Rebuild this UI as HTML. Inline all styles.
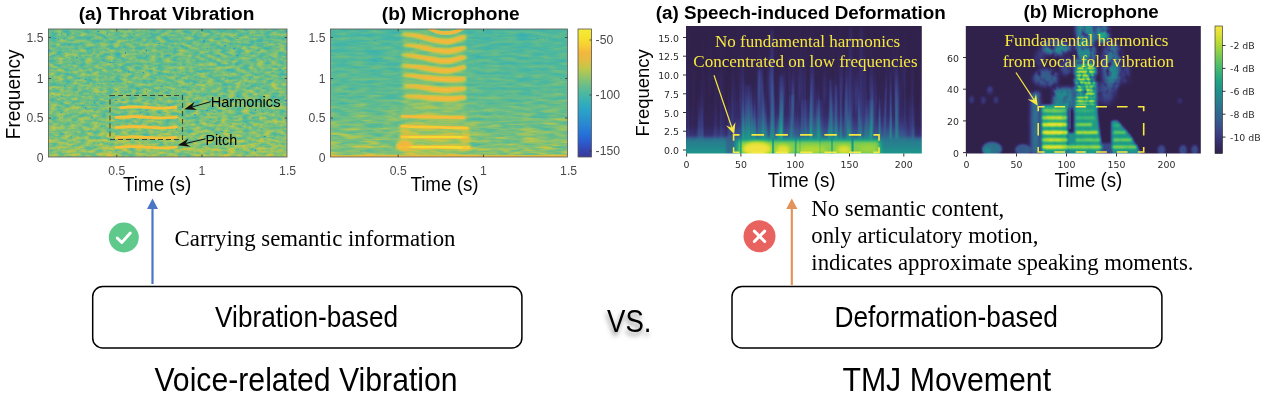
<!DOCTYPE html>
<html><head><meta charset="utf-8"><title>figure</title>
<style>
html,body{margin:0;padding:0;background:#fff}
body{width:1267px;height:400px;overflow:hidden;position:relative}
svg{position:absolute;left:0;top:0;display:block}
.sb{font-family:"Liberation Sans",Arial,Helvetica,sans-serif;font-weight:bold;fill:#000}
.s{font-family:"Liberation Sans",Arial,Helvetica,sans-serif;fill:#000}
.t{font-family:"Liberation Serif","Times New Roman",Times,serif;fill:#000}
.y{font-family:"Liberation Serif","Times New Roman",Times,serif;fill:#f7e840}
.mt{font-family:"Liberation Sans",Arial,Helvetica,sans-serif;fill:#4a4a4a;font-size:12.2px}
.dv{font-family:"DejaVu Sans","Liberation Sans",sans-serif;fill:#2a2a2a;font-size:9.4px}
</style></head><body>
<svg width="1267" height="400" viewBox="0 0 1267 400">

<defs>
<filter id="parula" x="0" y="0" width="1" height="1" color-interpolation-filters="sRGB">
<feComponentTransfer><feFuncR type="table" tableValues="0.227 0.204 0.165 0.141 0.165 0.165 0.165 0.220 0.302 0.420 0.576 0.737 0.878 0.949 0.973 0.961 0.961"/><feFuncG type="table" tableValues="0.227 0.282 0.373 0.455 0.525 0.588 0.647 0.690 0.722 0.745 0.769 0.784 0.745 0.714 0.812 0.890 0.922"/><feFuncB type="table" tableValues="0.596 0.710 0.824 0.847 0.824 0.800 0.776 0.706 0.624 0.529 0.416 0.290 0.259 0.243 0.200 0.180 0.220"/></feComponentTransfer>
</filter>
<filter id="viridis" x="0" y="0" width="1" height="1" color-interpolation-filters="sRGB">
<feComponentTransfer><feFuncR type="table" tableValues="0.188 0.208 0.227 0.227 0.200 0.173 0.149 0.122 0.133 0.227 0.361 0.522 0.698 0.867 0.961"/><feFuncG type="table" tableValues="0.133 0.169 0.235 0.314 0.388 0.451 0.514 0.576 0.639 0.702 0.761 0.808 0.851 0.878 0.890"/><feFuncB type="table" tableValues="0.294 0.400 0.502 0.541 0.553 0.557 0.557 0.545 0.518 0.455 0.388 0.294 0.208 0.204 0.271"/></feComponentTransfer>
</filter>
<filter id="noise1" x="0" y="0" width="1" height="1" color-interpolation-filters="sRGB">
<feTurbulence type="fractalNoise" baseFrequency="0.14 0.30" numOctaves="2" seed="3" result="t1"/>
<feColorMatrix in="t1" type="matrix" values="0.35 0 0 0 0.40  0.35 0 0 0 0.40  0.35 0 0 0 0.40  0 0 0 0 1" result="base"/>
<feTurbulence type="fractalNoise" baseFrequency="0.33 0.42" numOctaves="1" seed="11" result="t2"/>
<feColorMatrix in="t2" type="matrix" values="5 0 0 0 -0.45  5 0 0 0 -0.45  5 0 0 0 -0.45  0 0 0 0 1" result="sp"/>
<feBlend in="base" in2="sp" mode="multiply"/>
</filter>
<filter id="noise2" x="0" y="0" width="1" height="1" color-interpolation-filters="sRGB">
<feTurbulence type="fractalNoise" baseFrequency="0.06 0.32" numOctaves="2" seed="8" result="t1"/>
<feColorMatrix in="t1" type="matrix" values="0.21 0 0 0 0.44  0.21 0 0 0 0.44  0.21 0 0 0 0.44  0 0 0 0 1" result="base"/>
<feTurbulence type="fractalNoise" baseFrequency="0.30 0.45" numOctaves="1" seed="5" result="t2"/>
<feColorMatrix in="t2" type="matrix" values="4 0 0 0 0.0  4 0 0 0 0.0  4 0 0 0 0.0  0 0 0 0 1" result="sp"/>
<feBlend in="base" in2="sp" mode="multiply"/>
</filter>
<filter id="b05" filterUnits="userSpaceOnUse" x="0" y="0" width="1267" height="400"><feGaussianBlur stdDeviation="0.5"/></filter>
<filter id="b07" filterUnits="userSpaceOnUse" x="0" y="0" width="1267" height="400"><feGaussianBlur stdDeviation="0.75"/></filter>
<filter id="b1" filterUnits="userSpaceOnUse" x="0" y="0" width="1267" height="400"><feGaussianBlur stdDeviation="1"/></filter>
<filter id="b2" filterUnits="userSpaceOnUse" x="0" y="0" width="1267" height="400"><feGaussianBlur stdDeviation="2"/></filter>
<filter id="b3" filterUnits="userSpaceOnUse" x="0" y="0" width="1267" height="400"><feGaussianBlur stdDeviation="3"/></filter>
<filter id="b5" filterUnits="userSpaceOnUse" x="0" y="0" width="1267" height="400"><feGaussianBlur stdDeviation="5"/></filter>
<filter id="vsshadow" x="-0.3" y="-0.3" width="1.6" height="1.8"><feDropShadow dx="-1" dy="3.5" stdDeviation="2.6" flood-color="#000" flood-opacity="0.45"/></filter>
<linearGradient id="cbP" x1="0" y1="1" x2="0" y2="0">
<stop offset="0.0000" stop-color="#3A3A98"/><stop offset="0.0625" stop-color="#3448B5"/><stop offset="0.1250" stop-color="#2A5FD2"/><stop offset="0.1875" stop-color="#2474D8"/><stop offset="0.2500" stop-color="#2A86D2"/><stop offset="0.3125" stop-color="#2A96CC"/><stop offset="0.3750" stop-color="#2AA5C6"/><stop offset="0.4375" stop-color="#38B0B4"/><stop offset="0.5000" stop-color="#4DB89F"/><stop offset="0.5625" stop-color="#6BBE87"/><stop offset="0.6250" stop-color="#93C46A"/><stop offset="0.6875" stop-color="#BCC84A"/><stop offset="0.7500" stop-color="#E0BE42"/><stop offset="0.8125" stop-color="#F2B63E"/><stop offset="0.8750" stop-color="#F8CF33"/><stop offset="0.9375" stop-color="#F5E32E"/><stop offset="1.0000" stop-color="#F5EB38"/>
</linearGradient>
<linearGradient id="cbV" x1="0" y1="1" x2="0" y2="0">
<stop offset="0.0000" stop-color="#30224B"/><stop offset="0.0714" stop-color="#352B66"/><stop offset="0.1429" stop-color="#3A3C80"/><stop offset="0.2143" stop-color="#3A508A"/><stop offset="0.2857" stop-color="#33638D"/><stop offset="0.3571" stop-color="#2C738E"/><stop offset="0.4286" stop-color="#26838E"/><stop offset="0.5000" stop-color="#1F938B"/><stop offset="0.5714" stop-color="#22A384"/><stop offset="0.6429" stop-color="#3AB374"/><stop offset="0.7143" stop-color="#5CC263"/><stop offset="0.7857" stop-color="#85CE4B"/><stop offset="0.8571" stop-color="#B2D935"/><stop offset="0.9286" stop-color="#DDE034"/><stop offset="1.0000" stop-color="#F5E345"/>
</linearGradient>
<linearGradient id="vg1" x1="0" y1="0" x2="0" y2="1"><stop offset="0" stop-color="#000" stop-opacity="0.04"/><stop offset="0.5" stop-color="#000" stop-opacity="0"/><stop offset="0.75" stop-color="#fff" stop-opacity="0.02"/><stop offset="1" stop-color="#fff" stop-opacity="0.10"/></linearGradient>
<linearGradient id="vg2" x1="0" y1="0" x2="0" y2="1"><stop offset="0" stop-color="#000" stop-opacity="0.09"/><stop offset="0.45" stop-color="#000" stop-opacity="0.03"/><stop offset="0.7" stop-color="#fff" stop-opacity="0.03"/><stop offset="1" stop-color="#fff" stop-opacity="0.12"/></linearGradient>
<linearGradient id="hz3" x1="0" y1="0" x2="0" y2="1"><stop offset="0" stop-color="#fff" stop-opacity="0"/><stop offset="0.55" stop-color="#fff" stop-opacity="0.0"/><stop offset="0.78" stop-color="#fff" stop-opacity="0.035"/><stop offset="0.88" stop-color="#fff" stop-opacity="0.12"/></linearGradient>
<linearGradient id="hz3b" x1="0" y1="0" x2="0" y2="1"><stop offset="0" stop-color="#fff" stop-opacity="0.0"/><stop offset="0.4" stop-color="#fff" stop-opacity="0.012"/><stop offset="0.7" stop-color="#fff" stop-opacity="0.05"/><stop offset="0.88" stop-color="#fff" stop-opacity="0.2"/></linearGradient>
<linearGradient id="st3" x1="0" y1="0" x2="0" y2="1"><stop offset="0" stop-color="#fff" stop-opacity="0.35"/><stop offset="0.6" stop-color="#fff" stop-opacity="0.7"/><stop offset="1" stop-color="#fff" stop-opacity="1"/></linearGradient>
<linearGradient id="band3" x1="0" y1="0" x2="0" y2="1"><stop offset="0" stop-color="#666" stop-opacity="0"/><stop offset="0.2" stop-color="#626262" stop-opacity="1"/><stop offset="0.6" stop-color="#747474" stop-opacity="1"/><stop offset="1" stop-color="#8a8a8a"/></linearGradient>
<linearGradient id="m3g" x1="0" y1="0" x2="0" y2="1"><stop offset="0" stop-color="#fff" stop-opacity="0.0"/><stop offset="0.3" stop-color="#fff" stop-opacity="0.07"/><stop offset="0.55" stop-color="#fff" stop-opacity="0.42"/><stop offset="0.9" stop-color="#fff" stop-opacity="1"/></linearGradient>
<mask id="m3" maskUnits="userSpaceOnUse" x="680" y="20" width="250" height="140"><rect x="680" y="20" width="250" height="140" fill="url(#m3g)" opacity="0.35"/><rect x="736" y="20" width="170" height="140" fill="url(#m3g)" opacity="0.6" filter="url(#b3)"/></mask>
<filter id="streak3" x="0" y="0" width="1" height="1" color-interpolation-filters="sRGB">
<feTurbulence type="fractalNoise" baseFrequency="0.2 0.01" numOctaves="2" seed="4"/>
<feColorMatrix type="matrix" values="0 0 0 0 1  0 0 0 0 1  0 0 0 0 1  1.5 0 0 0 -0.62"/>
</filter>
<filter id="tex4" x="0" y="0" width="1" height="1" color-interpolation-filters="sRGB">
<feTurbulence type="fractalNoise" baseFrequency="0.16 0.12" numOctaves="2" seed="7"/>
<feColorMatrix type="matrix" values="0 0 0 0 0  0 0 0 0 0  0 0 0 0 0  2.5 0 0 0 -1.12"/>
</filter>
<linearGradient id="m4g" x1="0" y1="0" x2="0" y2="1"><stop offset="0" stop-color="#fff" stop-opacity="1"/><stop offset="0.5" stop-color="#fff" stop-opacity="0.9"/><stop offset="0.62" stop-color="#fff" stop-opacity="0.08"/><stop offset="1" stop-color="#fff" stop-opacity="0.06"/></linearGradient>
<mask id="m4" maskUnits="userSpaceOnUse" x="960" y="20" width="250" height="140"><rect x="960" y="20" width="250" height="140" fill="url(#m4g)"/></mask>
<filter id="lime2" x="0" y="0" width="1" height="1" color-interpolation-filters="sRGB">
<feTurbulence type="fractalNoise" baseFrequency="0.05 0.33" numOctaves="2" seed="21"/>
<feColorMatrix type="matrix" values="0 0 0 0 1  0 0 0 0 1  0 0 0 0 1  2.4 0 0 0 -1.1"/>
</filter>
<linearGradient id="ml2g" x1="0" y1="0" x2="0" y2="1"><stop offset="0" stop-color="#fff" stop-opacity="0"/><stop offset="0.5" stop-color="#fff" stop-opacity="0.05"/><stop offset="0.75" stop-color="#fff" stop-opacity="0.5"/><stop offset="1" stop-color="#fff" stop-opacity="1"/></linearGradient>
<mask id="ml2" maskUnits="userSpaceOnUse" x="320" y="20" width="260" height="150"><rect x="320" y="29" width="260" height="128" fill="url(#ml2g)"/></mask>
<mask id="ml1" maskUnits="userSpaceOnUse" x="40" y="20" width="260" height="150"><rect x="40" y="29" width="260" height="128" fill="url(#ml2g)"/></mask>
<pattern id="stripeU" patternUnits="userSpaceOnUse" x="0" y="60" width="20" height="3.65"><rect width="20" height="1.8" fill="#fff"/><rect y="1.8" width="20" height="1.85" fill="#444"/></pattern>
<clipPath id="c1"><rect x="48.5" y="29" width="238.5" height="128"/></clipPath>
<clipPath id="c2"><rect x="330.5" y="29" width="237" height="128"/></clipPath>
<clipPath id="c3"><rect x="686" y="26" width="235.8" height="127.5"/></clipPath>
<clipPath id="c4"><rect x="965.8" y="26" width="235" height="127.5"/></clipPath>
</defs>

<g clip-path="url(#c1)"><g filter="url(#parula)">
<rect x="40" y="20" width="260" height="150" fill="#888" filter="url(#noise1)"/>
<rect x="40" y="20" width="260" height="150" fill="url(#vg1)"/>
<rect x="40" y="20" width="260" height="150" fill="#fff" opacity="0.35" filter="url(#lime2)" mask="url(#ml1)"/>
<path d="M121 107.6 Q135 106.2 150 107.6 T176 107.2" stroke="#dadada" stroke-width="2.7" stroke-linecap="round" fill="none" opacity="0.95" filter="url(#b05)"/>
<path d="M116 117.39999999999999 Q135 116.0 150 117.39999999999999 T176 117.0" stroke="#dadada" stroke-width="2.7" stroke-linecap="round" fill="none" opacity="0.95" filter="url(#b05)"/>
<path d="M116 127.39999999999999 Q135 126.0 150 127.39999999999999 T176 127.0" stroke="#dadada" stroke-width="2.7" stroke-linecap="round" fill="none" opacity="0.95" filter="url(#b05)"/>
<path d="M116 137.6 Q135 136.2 150 137.6 T176 137.2" stroke="#dadada" stroke-width="2.7" stroke-linecap="round" fill="none" opacity="0.95" filter="url(#b05)"/>
<path d="M116 147.4 Q135 146.0 150 147.4 T176 147.0" stroke="#dadada" stroke-width="2.7" stroke-linecap="round" fill="none" opacity="0.95" filter="url(#b05)"/>
</g></g>
<rect x="48.5" y="29" width="238.5" height="128" fill="none" stroke="#555" stroke-width="0.8"/>
<rect x="110" y="95.5" width="72.5" height="44" fill="none" stroke="#3b4a3b" stroke-width="1.1" stroke-dasharray="5 3"/>
<path d="M210.6 101.7L192.0 107.0" stroke="#111" stroke-width="1.0" fill="none"/><path d="M184.3 109.2L194.7 101.8L192.0 107.0L197.0 110.0Z" fill="#111"/>
<path d="M205.5 138.8L185.6 143.5" stroke="#111" stroke-width="1.0" fill="none"/><path d="M177.8 145.3L188.5 138.4L185.6 143.5L190.5 146.7Z" fill="#111"/>
<g clip-path="url(#c2)"><g filter="url(#parula)">
<rect x="320" y="20" width="260" height="150" fill="#888" filter="url(#noise2)"/>
<rect x="320" y="20" width="260" height="150" fill="url(#vg2)"/>
<rect x="320" y="20" width="260" height="150" fill="#fff" opacity="0.5" filter="url(#lime2)" mask="url(#ml2)"/>
<rect x="403" y="29" width="62" height="128" fill="#fff" opacity="0.10" filter="url(#b2)"/>
<path d="M427 27 C433 31 440 33 446 33 S458 31.5 463 28" stroke="#d6d6d6" stroke-width="3.4" fill="none" stroke-linecap="round" opacity="0.9" filter="url(#b05)"/>
<path d="M403 34.1 C419 34.4 430 41.0 447 41.6 S461 38.5 464.5 37.3" stroke="#c0c0c0" stroke-width="5.0" stroke-linecap="round" fill="none" opacity="0.38" filter="url(#b1)"/>
<path d="M403.0 33.4L405.6 33.3L408.2 33.4L410.8 33.5L413.4 33.8L416.0 34.2L418.6 34.6L421.2 35.1L423.8 35.7L426.4 36.2L429.0 36.8L431.6 37.3L434.2 37.9L436.9 38.3L439.5 38.8L442.1 39.1L444.7 39.2L447.3 39.3L449.9 39.0L452.5 38.3L455.1 37.6L457.7 36.9L460.3 36.2L462.9 36.0L465.5 36.2L465.5 38.4L462.9 39.1L460.3 40.1L457.7 41.0L455.1 42.1L452.5 43.1L449.9 43.7L447.3 43.9L444.7 43.8L442.1 43.6L439.5 43.3L436.9 42.8L434.2 42.3L431.6 41.7L429.0 41.0L426.4 40.2L423.8 39.4L421.2 38.6L418.6 37.9L416.0 37.2L413.4 36.5L410.8 35.9L408.2 35.4L405.6 35.0L403.0 34.8Z" fill="#d8d8d8" opacity="0.95" filter="url(#b1)"/>
<path d="M405 45.1 C421 45.4 430 50.7 447 51.3 S461 49.0 464.5 47.8" stroke="#c0c0c0" stroke-width="5.0" stroke-linecap="round" fill="none" opacity="0.38" filter="url(#b1)"/>
<path d="M405.0 44.4L407.5 44.3L410.0 44.3L412.6 44.5L415.1 44.7L417.6 44.9L420.1 45.3L422.6 45.7L425.2 46.1L427.7 46.6L430.2 47.0L432.7 47.4L435.2 47.9L437.8 48.3L440.3 48.6L442.8 48.8L445.3 49.0L447.9 49.0L450.4 48.7L452.9 48.1L455.4 47.5L457.9 47.0L460.5 46.5L463.0 46.4L465.5 46.7L465.5 48.9L463.0 49.5L460.5 50.4L457.9 51.2L455.4 52.0L452.9 52.8L450.4 53.3L447.9 53.6L445.3 53.6L442.8 53.4L440.3 53.1L437.8 52.8L435.2 52.3L432.7 51.8L430.2 51.2L427.7 50.6L425.2 49.9L422.6 49.2L420.1 48.6L417.6 47.9L415.1 47.3L412.6 46.8L410.0 46.4L407.5 46.0L405.0 45.8Z" fill="#d8d8d8" opacity="0.95" filter="url(#b1)"/>
<path d="M403 55.1 C419 55.4 430 60.3 447 60.9 S461 58.6 464.5 57.4" stroke="#c0c0c0" stroke-width="5.0" stroke-linecap="round" fill="none" opacity="0.38" filter="url(#b1)"/>
<path d="M403.0 54.4L405.6 54.3L408.2 54.3L410.8 54.4L413.4 54.6L416.0 54.8L418.6 55.1L421.2 55.5L423.8 55.9L426.4 56.3L429.0 56.7L431.6 57.1L434.2 57.5L436.9 57.9L439.5 58.2L442.1 58.4L444.7 58.6L447.3 58.6L449.9 58.3L452.5 57.8L455.1 57.2L457.7 56.7L460.3 56.2L462.9 56.0L465.5 56.3L465.5 58.5L462.9 59.1L460.3 60.0L457.7 60.8L455.1 61.7L452.5 62.5L449.9 63.0L447.3 63.2L444.7 63.2L442.1 63.0L439.5 62.7L436.9 62.4L434.2 61.9L431.6 61.5L429.0 60.9L426.4 60.3L423.8 59.6L421.2 59.0L418.6 58.4L416.0 57.8L413.4 57.3L410.8 56.8L408.2 56.3L405.6 56.0L403.0 55.8Z" fill="#d8d8d8" opacity="0.95" filter="url(#b1)"/>
<path d="M403 65.6 C419 65.9 430 70.3 447 70.9 S461 68.4 464.5 67.2" stroke="#c0c0c0" stroke-width="5.0" stroke-linecap="round" fill="none" opacity="0.38" filter="url(#b1)"/>
<path d="M403.0 64.9L405.6 64.8L408.2 64.8L410.8 64.9L413.4 65.0L416.0 65.2L418.6 65.5L421.2 65.8L423.8 66.2L426.4 66.5L429.0 66.9L431.6 67.2L434.2 67.6L436.9 67.9L439.5 68.2L442.1 68.4L444.7 68.6L447.3 68.6L449.9 68.3L452.5 67.8L455.1 67.2L457.7 66.5L460.3 66.0L462.9 65.8L465.5 66.1L465.5 68.3L462.9 69.0L460.3 69.8L457.7 70.7L455.1 71.6L452.5 72.5L449.9 73.0L447.3 73.2L444.7 73.2L442.1 73.0L439.5 72.7L436.9 72.4L434.2 72.0L431.6 71.6L429.0 71.1L426.4 70.5L423.8 69.9L421.2 69.3L418.6 68.8L416.0 68.2L413.4 67.7L410.8 67.2L408.2 66.8L405.6 66.5L403.0 66.3Z" fill="#d8d8d8" opacity="0.95" filter="url(#b1)"/>
<path d="M404 75.4 C420 75.7 430 78.9 447 79.5 S461 80.0 464.5 78.8" stroke="#c0c0c0" stroke-width="5.0" stroke-linecap="round" fill="none" opacity="0.38" filter="url(#b1)"/>
<path d="M404.0 74.7L406.6 74.6L409.1 74.6L411.7 74.6L414.2 74.6L416.8 74.8L419.4 75.0L421.9 75.2L424.5 75.4L427.1 75.7L429.6 75.9L432.2 76.2L434.8 76.5L437.3 76.7L439.9 76.9L442.4 77.1L445.0 77.2L447.6 77.2L450.1 77.1L452.7 77.0L455.2 77.0L457.8 77.0L460.4 77.0L462.9 77.3L465.5 77.7L465.5 79.9L462.9 80.4L460.4 80.9L457.8 81.1L455.2 81.4L452.7 81.7L450.1 81.8L447.6 81.8L445.0 81.8L442.4 81.7L439.9 81.5L437.3 81.2L434.8 80.9L432.2 80.6L429.6 80.1L427.1 79.7L424.5 79.2L421.9 78.7L419.4 78.2L416.8 77.8L414.2 77.3L411.7 76.9L409.1 76.6L406.6 76.3L404.0 76.1Z" fill="#d8d8d8" opacity="0.95" filter="url(#b1)"/>
<path d="M405 85.8 C421 86.1 430 89.5 447 90.1 S461 89.6 464.5 88.4" stroke="#c0c0c0" stroke-width="5.0" stroke-linecap="round" fill="none" opacity="0.38" filter="url(#b1)"/>
<path d="M405.0 85.1L407.5 85.0L410.0 85.0L412.6 85.0L415.1 85.1L417.6 85.2L420.1 85.4L422.6 85.7L425.2 86.0L427.7 86.2L430.2 86.5L432.7 86.7L435.2 87.1L437.8 87.3L440.3 87.5L442.8 87.7L445.3 87.8L447.9 87.8L450.4 87.6L452.9 87.3L455.4 87.1L457.9 86.9L460.5 86.8L463.0 86.9L465.5 87.3L465.5 89.5L463.0 90.0L460.5 90.6L457.9 91.1L455.4 91.6L452.9 92.1L450.4 92.3L447.9 92.4L445.3 92.4L442.8 92.3L440.3 92.1L437.8 91.8L435.2 91.5L432.7 91.2L430.2 90.7L427.7 90.2L425.2 89.7L422.6 89.2L420.1 88.7L417.6 88.2L415.1 87.8L412.6 87.3L410.0 87.0L407.5 86.7L405.0 86.5Z" fill="#d8d8d8" opacity="0.95" filter="url(#b1)"/>
<path d="M406 96.1 C422 96.4 430 98.3 447 98.9 S461 98.6 464.5 97.4" stroke="#c0c0c0" stroke-width="5.0" stroke-linecap="round" fill="none" opacity="0.38" filter="url(#b1)"/>
<path d="M406.0 95.4L408.5 95.3L411.0 95.2L413.4 95.2L415.9 95.2L418.4 95.2L420.9 95.3L423.4 95.4L425.8 95.6L428.3 95.7L430.8 95.8L433.3 96.0L435.8 96.2L438.2 96.3L440.7 96.5L443.2 96.5L445.7 96.6L448.1 96.6L450.6 96.4L453.1 96.2L455.6 96.0L458.1 95.9L460.5 95.7L463.0 95.9L465.5 96.3L465.5 98.5L463.0 99.0L460.5 99.6L458.1 100.0L455.6 100.5L453.1 100.9L450.6 101.1L448.1 101.2L445.7 101.2L443.2 101.1L440.7 101.0L438.2 100.8L435.8 100.6L433.3 100.4L430.8 100.0L428.3 99.7L425.8 99.3L423.4 98.9L420.9 98.6L418.4 98.2L415.9 97.9L413.4 97.5L411.0 97.2L408.5 97.0L406.0 96.8Z" fill="#d8d8d8" opacity="0.95" filter="url(#b1)"/>
<path d="M414 107.2 Q437 109 461 107.6" stroke="#bbb" stroke-width="2" stroke-linecap="round" fill="none" opacity="0.55" filter="url(#b1)"/>
<path d="M401.5 116.3 L464.5 117.7" stroke="#c4c4c4" stroke-width="5" stroke-linecap="round" fill="none" opacity="0.45" filter="url(#b1)"/>
<path d="M402.5 116.3 L463.5 117.7" stroke="#d6d6d6" stroke-width="2.8" stroke-linecap="round" fill="none" opacity="0.95" filter="url(#b07)"/>
<path d="M401 126.3 L468 128.2" stroke="#c4c4c4" stroke-width="5" stroke-linecap="round" fill="none" opacity="0.45" filter="url(#b1)"/>
<path d="M402 126.3 L467 128.2" stroke="#e0e0e0" stroke-width="2.8" stroke-linecap="round" fill="none" opacity="0.95" filter="url(#b07)"/>
<path d="M401 136.8 L468 137.3" stroke="#c4c4c4" stroke-width="5" stroke-linecap="round" fill="none" opacity="0.45" filter="url(#b1)"/>
<path d="M402 136.8 L467 137.3" stroke="#ededed" stroke-width="2.8" stroke-linecap="round" fill="none" opacity="0.95" filter="url(#b07)"/>
<path d="M399 146.9 L470 147.5" stroke="#c4c4c4" stroke-width="5" stroke-linecap="round" fill="none" opacity="0.45" filter="url(#b1)"/>
<path d="M400 146.9 L469 147.5" stroke="#ededed" stroke-width="2.8" stroke-linecap="round" fill="none" opacity="0.95" filter="url(#b07)"/>
<ellipse cx="404" cy="146" rx="8" ry="4.6" fill="#d8d8d8" opacity="0.9" filter="url(#b1)"/>
<rect x="400" y="128" width="9" height="20" fill="#c8c8c8" opacity="0.35" filter="url(#b1)"/>
<rect x="462" y="130" width="8" height="20" fill="#c8c8c8" opacity="0.4" filter="url(#b1)"/>
<rect x="330" y="155.4" width="240" height="2" fill="#d8d8d8" opacity="0.9"/>
</g></g>
<rect x="330.5" y="29" width="237" height="128" fill="none" stroke="#555" stroke-width="0.8"/>
<rect x="578" y="29" width="13.5" height="128" fill="url(#cbP)" stroke="#555" stroke-width="0.8"/>
<g clip-path="url(#c3)"><g filter="url(#viridis)">
<rect x="680" y="20" width="250" height="140" fill="#000000" opacity="1"/>
<rect x="680" y="26" width="250" height="128" fill="url(#hz3)"/>
<rect x="733" y="26" width="175" height="128" fill="url(#hz3b)" filter="url(#b3)"/>
<rect x="680" y="20" width="250" height="140" fill="#fff" filter="url(#streak3)" mask="url(#m3)"/>
<rect x="770.9" y="30" width="2.2" height="110" fill="url(#st3)" opacity="0.26" filter="url(#b1)"/>
<rect x="757.5" y="70" width="5" height="70" fill="url(#st3)" opacity="0.19" filter="url(#b1)"/>
<rect x="745.0" y="85" width="6" height="55" fill="url(#st3)" opacity="0.17" filter="url(#b1)"/>
<rect x="779.0" y="75" width="4" height="65" fill="url(#st3)" opacity="0.17" filter="url(#b1)"/>
<rect x="789.5" y="95" width="5" height="45" fill="url(#st3)" opacity="0.15" filter="url(#b1)"/>
<rect x="829.8" y="80" width="2.4" height="60" fill="url(#st3)" opacity="0.26" filter="url(#b1)"/>
<rect x="835.3" y="85" width="2.4" height="55" fill="url(#st3)" opacity="0.24" filter="url(#b1)"/>
<rect x="849.2" y="28" width="2.6" height="112" fill="url(#st3)" opacity="0.19" filter="url(#b1)"/>
<rect x="859.5" y="28" width="3" height="112" fill="url(#st3)" opacity="0.17" filter="url(#b1)"/>
<rect x="817.5" y="100" width="5" height="40" fill="url(#st3)" opacity="0.13" filter="url(#b1)"/>
<rect x="867.0" y="100" width="6" height="40" fill="url(#st3)" opacity="0.13" filter="url(#b1)"/>
<rect x="802.0" y="100" width="6" height="40" fill="url(#st3)" opacity="0.12" filter="url(#b1)"/>
<rect x="680" y="136" width="250" height="20" fill="url(#band3)" filter="url(#b1)"/>
<rect x="726" y="137" width="8" height="18" fill="#383838" opacity="0.55" filter="url(#b1)"/>
<rect x="738" y="140" width="142" height="15" fill="#d6d6d6" opacity="0.85" filter="url(#b2)"/>
<ellipse cx="757" cy="149" rx="14" ry="7" fill="#ffffff" opacity="0.95" filter="url(#b2)"/>
<ellipse cx="783" cy="150" rx="7" ry="5" fill="#ffffff" opacity="0.8" filter="url(#b2)"/>
<ellipse cx="812" cy="150" rx="14" ry="4.5" fill="#f2f2f2" opacity="0.45" filter="url(#b2)"/>
<ellipse cx="844" cy="150" rx="7" ry="4.5" fill="#ffffff" opacity="0.7" filter="url(#b2)"/>
<ellipse cx="868" cy="149" rx="9" ry="4.5" fill="#e6e6e6" opacity="0.35" filter="url(#b2)"/>
<rect x="740.0" y="138" width="1.6" height="17" fill="#595959" opacity="0.45" filter="url(#b05)"/>
<rect x="772.1" y="138" width="1.8" height="17" fill="#595959" opacity="0.5" filter="url(#b05)"/>
<rect x="794.8000000000001" y="138" width="1.8" height="17" fill="#595959" opacity="0.4" filter="url(#b05)"/>
<rect x="831.2" y="138" width="1.6" height="17" fill="#595959" opacity="0.4" filter="url(#b05)"/>
<rect x="851.5" y="138" width="2" height="17" fill="#595959" opacity="0.6" filter="url(#b05)"/>
<rect x="799.5" y="138" width="1" height="17" fill="#595959" opacity="0.2" filter="url(#b05)"/>
<rect x="819.5" y="138" width="1" height="17" fill="#595959" opacity="0.2" filter="url(#b05)"/>
</g></g>
<path d="M733.6 134.9H739.5M733.6 152.2H739.5M751.5 134.9H764.1M751.5 152.2H764.1M775.5 134.9H787.9M775.5 152.2H787.9M800.1 134.9H812.5M800.1 152.2H812.5M824.4 134.9H836.8M824.4 152.2H836.8M848.8 134.9H861.1M848.8 152.2H861.1M873.4 134.9H879.0M873.4 152.2H879.0M733.6 134.1V140.8M879 134.1V140.8M733.6 147.2V153.0M879 147.2V153.0" stroke="#f7e840" stroke-width="1.6" fill="none"/>
<g clip-path="url(#c4)"><g filter="url(#viridis)">
<rect x="960" y="20" width="250" height="140" fill="#000000" opacity="1"/>
<ellipse cx="971.7" cy="99.5" rx="2.5" ry="4" fill="#4c4c4c" opacity="0.45" filter="url(#b1)"/>
<ellipse cx="983.4" cy="100" rx="2.5" ry="4" fill="#4c4c4c" opacity="0.45" filter="url(#b1)"/>
<ellipse cx="990" cy="90.5" rx="3" ry="4.5" fill="#4c4c4c" opacity="0.5" filter="url(#b1)"/>
<ellipse cx="996" cy="100" rx="2.5" ry="3.5" fill="#4c4c4c" opacity="0.45" filter="url(#b1)"/>
<ellipse cx="992" cy="149" rx="10" ry="7" fill="#737373" opacity="0.8" filter="url(#b1)"/>
<ellipse cx="987" cy="151" rx="4" ry="3" fill="#8c8c8c" opacity="0.5" filter="url(#b1)"/>
<ellipse cx="1023" cy="150" rx="8" ry="6" fill="#525252" opacity="0.8" filter="url(#b1)"/>
<ellipse cx="1161.5" cy="150" rx="4" ry="5" fill="#4c4c4c" opacity="0.7" filter="url(#b1)"/>
<ellipse cx="1183" cy="150" rx="4" ry="5" fill="#4c4c4c" opacity="0.7" filter="url(#b1)"/>
<ellipse cx="1194.7" cy="150" rx="3.5" ry="5" fill="#4c4c4c" opacity="0.7" filter="url(#b1)"/>
<ellipse cx="1180" cy="101" rx="2.5" ry="3" fill="#333333" opacity="0.5" filter="url(#b1)"/>
<ellipse cx="1056" cy="48" rx="15" ry="7" fill="#808080" opacity="0.9" filter="url(#b2)"/>
<ellipse cx="1046" cy="78" rx="13" ry="9" fill="#525252" opacity="0.85" filter="url(#b2)"/>
<ellipse cx="1040" cy="58" rx="5" ry="9" fill="#383838" opacity="0.7" filter="url(#b2)"/>
<ellipse cx="1066" cy="66" rx="6" ry="10" fill="#4c4c4c" opacity="0.7" filter="url(#b2)"/>
<ellipse cx="1112" cy="66" rx="9" ry="24" fill="#6e6e6e" opacity="0.9" filter="url(#b3)"/>
<ellipse cx="1113" cy="76" rx="4" ry="11" fill="#808080" opacity="0.7" filter="url(#b2)"/>
<ellipse cx="1102" cy="34" rx="7" ry="9" fill="#9e9e9e" opacity="0.92" filter="url(#b2)"/>
<ellipse cx="1106" cy="92" rx="9" ry="12" fill="#454545" opacity="0.75" filter="url(#b3)"/>
<rect x="1053" y="88" width="20" height="20" fill="#808080" opacity="0.9" filter="url(#b2)"/>
<rect x="1124" y="66" width="5" height="18" fill="#737373" opacity="0.5" filter="url(#b2)"/>
<rect x="1076" y="22" width="19" height="90" fill="#808080" opacity="0.9" filter="url(#b2)"/>
<rect x="1076" y="64" width="19" height="44" fill="#d6d6d6" opacity="0.95" filter="url(#b2)"/>
<rect x="1076" y="60" width="19" height="46" fill="url(#stripeU)" opacity="0.22" filter="url(#b05)"/>
<rect x="1031" y="92" width="9" height="62" fill="#737373" opacity="0.8" filter="url(#b2)"/>
<rect x="1041.5" y="105" width="26" height="50" fill="#999999" opacity="0.95" filter="url(#b1)"/>
<rect x="1074.5" y="105" width="22" height="50" fill="#8f8f8f" opacity="0.95" filter="url(#b1)"/>
<path d="M1096 106L1102.5 153H1090V106Z" fill="#8c8c8c" filter="url(#b1)"/>
<rect x="1068" y="133" width="8" height="22" fill="#8c8c8c" opacity="0.9" filter="url(#b1)"/>
<rect x="1068.7" y="101" width="2.2" height="28" fill="#4c4c4c" opacity="0.7" filter="url(#b07)"/>
<path d="M1111.5 121L1117 120.5L1130 135L1141 154H1111.5Z" fill="#848484" filter="url(#b1)"/>
<rect x="1100" y="143" width="12" height="11" fill="#3d3d3d" opacity="0.8" filter="url(#b1)"/>
<rect x="1042" y="109.0" width="24" height="3.4" fill="#bdbdbd" opacity="0.95" filter="url(#b1)"/>
<rect x="1045" y="109.5" width="17" height="2.4" fill="#d6d6d6" opacity="0.6" filter="url(#b1)"/>
<rect x="1042" y="116.1" width="25" height="3.4" fill="#e0e0e0" opacity="0.95" filter="url(#b1)"/>
<rect x="1045" y="116.6" width="17" height="2.4" fill="#fafafa" opacity="0.6" filter="url(#b1)"/>
<rect x="1042" y="122.9" width="25" height="3.4" fill="#ffffff" opacity="0.95" filter="url(#b1)"/>
<rect x="1045" y="123.4" width="17" height="2.4" fill="#ffffff" opacity="0.6" filter="url(#b1)"/>
<rect x="1042" y="130.8" width="26" height="3.4" fill="#ffffff" opacity="0.95" filter="url(#b1)"/>
<rect x="1045" y="131.3" width="17" height="2.4" fill="#ffffff" opacity="0.6" filter="url(#b1)"/>
<rect x="1042" y="138.2" width="26" height="3.4" fill="#e0e0e0" opacity="0.95" filter="url(#b1)"/>
<rect x="1045" y="138.7" width="17" height="2.4" fill="#fafafa" opacity="0.6" filter="url(#b1)"/>
<rect x="1042" y="145.3" width="26" height="3.4" fill="#f7f7f7" opacity="0.95" filter="url(#b1)"/>
<rect x="1045" y="145.8" width="17" height="2.4" fill="#ffffff" opacity="0.6" filter="url(#b1)"/>
<rect x="1066" y="145.4" width="36" height="3.3" fill="#e6e6e6" opacity="0.9" filter="url(#b1)"/>
<rect x="1075.5" y="109.10000000000001" width="18.5" height="3.2" fill="#a8a8a8" opacity="0.9" filter="url(#b1)"/>
<rect x="1075.5" y="116.2" width="19.5" height="3.2" fill="#b2b2b2" opacity="0.9" filter="url(#b1)"/>
<rect x="1075.5" y="123.0" width="16.5" height="3.2" fill="#dbdbdb" opacity="0.9" filter="url(#b1)"/>
<rect x="1075.5" y="130.9" width="22.5" height="3.2" fill="#f2f2f2" opacity="0.9" filter="url(#b1)"/>
<rect x="1075.5" y="138.3" width="24.5" height="3.2" fill="#cccccc" opacity="0.9" filter="url(#b1)"/>
<rect x="1113" y="124.0" width="7" height="3" fill="#adadad" opacity="0.85" filter="url(#b1)"/>
<rect x="1113" y="131.0" width="13" height="3" fill="#cccccc" opacity="0.85" filter="url(#b1)"/>
<rect x="1113" y="138.4" width="19" height="3" fill="#d9d9d9" opacity="0.85" filter="url(#b1)"/>
<rect x="1112" y="145.5" width="25" height="3" fill="#e6e6e6" opacity="0.85" filter="url(#b1)"/>
<rect x="960" y="20" width="250" height="140" fill="#000" filter="url(#tex4)" mask="url(#m4)"/>
</g></g>
<path d="M1038.2 106.8H1044.5M1038.2 152H1044.5M1054.4 106.8H1065.0M1054.4 152H1065.0M1075.7 106.8H1085.9M1075.7 152H1085.9M1096.1 106.8H1106.9M1096.1 152H1106.9M1116.9 106.8H1127.6M1116.9 152H1127.6M1137.9 106.8H1143.7M1137.9 152H1143.7M1038.2 106.0V111.3M1143.7 106.0V111.3M1038.2 123.0V135.4M1143.7 123.0V135.4M1038.2 147.0V152.8M1143.7 147.0V152.8" stroke="#f7e840" stroke-width="1.6" fill="none"/>
<rect x="1215" y="26" width="7.5" height="127.5" fill="url(#cbV)" stroke="#222" stroke-width="0.6"/>
<text class="sb" x="78.7" y="20.2" font-size="19.1" >(a) Throat Vibration</text>
<text class="sb" x="381.8" y="20.2" font-size="19.1">(b) Microphone</text>
<text class="sb" x="655.7" y="18.5" font-size="18.85">(a) Speech-induced Deformation</text>
<text class="sb" x="1023.4" y="17.6" font-size="18.75">(b) Microphone</text>
<text class="s" transform="translate(20 139.2) rotate(-90) scale(1 1.06)" font-size="19">Frequency</text>
<text class="s" transform="translate(648.5 136.5) rotate(-90) scale(1 0.95)" font-size="18.5">Frequency</text>
<text class="s" transform="translate(123.1 190.9) scale(1 1.08)" font-size="18.8">Time (s)</text>
<text class="s" transform="translate(410.4 190.9) scale(1 1.08)" font-size="18.8">Time (s)</text>
<text class="s" transform="translate(767.8 186.9) scale(1 1.06)" font-size="18.7">Time (s)</text>
<text class="s" transform="translate(1054.5 186.9) scale(1 1.06)" font-size="18.7">Time (s)</text>
<path d="M116.8 157v-2.4M116.8 29v2.4M202 157v-2.4M202 29v2.4M48.5 37.5h2.4M287 37.5h-2.4M48.5 78.5h2.4M287 78.5h-2.4M48.5 118h2.4M287 118h-2.4M398.2 157v-2.4M398.2 29v2.4M483.5 157v-2.4M483.5 29v2.4M330.5 37.5h2.4M567.5 37.5h-2.4M330.5 78.5h2.4M567.5 78.5h-2.4M330.5 118h2.4M567.5 118h-2.4M591.5 40h-2M591.5 95h-2M591.5 151h-2" stroke="#333" stroke-width="0.8" fill="none"/>
<text class="mt" x="43.5" y="41.9" text-anchor="end">1.5</text>
<text class="mt" x="325.5" y="41.9" text-anchor="end">1.5</text>
<text class="mt" x="43.5" y="82.9" text-anchor="end">1</text>
<text class="mt" x="325.5" y="82.9" text-anchor="end">1</text>
<text class="mt" x="43.5" y="122.4" text-anchor="end">0.5</text>
<text class="mt" x="325.5" y="122.4" text-anchor="end">0.5</text>
<text class="mt" x="43.5" y="161.9" text-anchor="end">0</text>
<text class="mt" x="325.5" y="161.9" text-anchor="end">0</text>
<text class="mt" x="116.8" y="175.1" text-anchor="middle">0.5</text>
<text class="mt" x="202" y="175.1" text-anchor="middle">1</text>
<text class="mt" x="287.6" y="175.1" text-anchor="middle">1.5</text>
<text class="mt" x="398.2" y="175.1" text-anchor="middle">0.5</text>
<text class="mt" x="483.5" y="175.1" text-anchor="middle">1</text>
<text class="mt" x="568.6" y="175.1" text-anchor="middle">1.5</text>
<text class="mt" x="595.6" y="44.4">-50</text>
<text class="mt" x="595.6" y="99.4">-100</text>
<text class="mt" x="595.6" y="155.4">-150</text>
<text class="s" x="210.7" y="107.1" font-size="14.6">Harmonics</text>
<text class="s" x="205.4" y="144.5" font-size="14.3">Pitch</text>
<text class="dv" x="679" y="41.5" text-anchor="end">15.0</text>
<path d="M683 37.5H686" stroke="#000" stroke-width="0.8"/>
<text class="dv" x="679" y="60.2" text-anchor="end">12.5</text>
<path d="M683 56.2H686" stroke="#000" stroke-width="0.8"/>
<text class="dv" x="679" y="79.0" text-anchor="end">10.0</text>
<path d="M683 75.0H686" stroke="#000" stroke-width="0.8"/>
<text class="dv" x="679" y="97.8" text-anchor="end">7.5</text>
<path d="M683 93.8H686" stroke="#000" stroke-width="0.8"/>
<text class="dv" x="679" y="116.5" text-anchor="end">5.0</text>
<path d="M683 112.5H686" stroke="#000" stroke-width="0.8"/>
<text class="dv" x="679" y="135.2" text-anchor="end">2.5</text>
<path d="M683 131.2H686" stroke="#000" stroke-width="0.8"/>
<text class="dv" x="679" y="154.0" text-anchor="end">0.0</text>
<path d="M683 150.0H686" stroke="#000" stroke-width="0.8"/>
<text class="dv" x="686.6" y="167.9" text-anchor="middle">0</text>
<path d="M686.6 153.5V156.5" stroke="#000" stroke-width="0.8"/>
<text class="dv" x="740.9" y="167.9" text-anchor="middle">50</text>
<path d="M740.9 153.5V156.5" stroke="#000" stroke-width="0.8"/>
<text class="dv" x="795.2" y="167.9" text-anchor="middle">100</text>
<path d="M795.2 153.5V156.5" stroke="#000" stroke-width="0.8"/>
<text class="dv" x="849.5" y="167.9" text-anchor="middle">150</text>
<path d="M849.5 153.5V156.5" stroke="#000" stroke-width="0.8"/>
<text class="dv" x="903.8" y="167.9" text-anchor="middle">200</text>
<path d="M903.8 153.5V156.5" stroke="#000" stroke-width="0.8"/>
<text class="dv" x="959" y="61.5" text-anchor="end">60</text>
<path d="M963 57.5H966" stroke="#000" stroke-width="0.8"/>
<text class="dv" x="959" y="93.2" text-anchor="end">40</text>
<path d="M963 89.2H966" stroke="#000" stroke-width="0.8"/>
<text class="dv" x="959" y="124.9" text-anchor="end">20</text>
<path d="M963 120.9H966" stroke="#000" stroke-width="0.8"/>
<text class="dv" x="959" y="156.6" text-anchor="end">0</text>
<path d="M963 152.6H966" stroke="#000" stroke-width="0.8"/>
<text class="dv" x="966.5" y="167.9" text-anchor="middle">0</text>
<path d="M966.5 153.5V156.5" stroke="#000" stroke-width="0.8"/>
<text class="dv" x="1016.5" y="167.9" text-anchor="middle">50</text>
<path d="M1016.5 153.5V156.5" stroke="#000" stroke-width="0.8"/>
<text class="dv" x="1066.5" y="167.9" text-anchor="middle">100</text>
<path d="M1066.5 153.5V156.5" stroke="#000" stroke-width="0.8"/>
<text class="dv" x="1116.5" y="167.9" text-anchor="middle">150</text>
<path d="M1116.5 153.5V156.5" stroke="#000" stroke-width="0.8"/>
<text class="dv" x="1166.5" y="167.9" text-anchor="middle">200</text>
<path d="M1166.5 153.5V156.5" stroke="#000" stroke-width="0.8"/>
<text class="dv" x="1230" y="49.2" font-size="10.5">-2 dB</text>
<path d="M1222.5 45.5H1225.5" stroke="#000" stroke-width="0.8"/>
<text class="dv" x="1230" y="72.1" font-size="10.5">-4 dB</text>
<path d="M1222.5 68.4H1225.5" stroke="#000" stroke-width="0.8"/>
<text class="dv" x="1230" y="95.0" font-size="10.5">-6 dB</text>
<path d="M1222.5 91.3H1225.5" stroke="#000" stroke-width="0.8"/>
<text class="dv" x="1230" y="117.9" font-size="10.5">-8 dB</text>
<path d="M1222.5 114.2H1225.5" stroke="#000" stroke-width="0.8"/>
<text class="dv" x="1230" y="140.8" font-size="10.5">-10 dB</text>
<path d="M1222.5 137.1H1225.5" stroke="#000" stroke-width="0.8"/>
<text class="y" x="715" y="46.7" font-size="17">No fundamental harmonics</text>
<text class="y" x="693.3" y="67" font-size="17">Concentrated on low frequencies</text>
<text class="y" x="1004.5" y="46.3" font-size="17">Fundamental harmonics</text>
<text class="y" x="1002.7" y="66.6" font-size="17">from vocal fold vibration</text>
<path d="M714.0 75.3L731.9 127.7" stroke="#f7e840" stroke-width="1.2" fill="none"/><path d="M734.2 134.3L725.9 125.5L731.9 127.7L735.4 122.3Z" fill="#f7e840"/>
<path d="M1016.0 72.5L1034.0 99.9" stroke="#f7e840" stroke-width="1.2" fill="none"/><path d="M1037.8 105.8L1027.6 99.3L1034.0 99.9L1036.0 93.9Z" fill="#f7e840"/>
<path d="M152.5 284V207" stroke="#4a76c6" stroke-width="2.2"/><path d="M152.5 198.5L158 209H147Z" fill="#4a76c6"/>
<path d="M791.8 285V207" stroke="#e3935c" stroke-width="2.2"/><path d="M791.8 198.5L797.4 209H786.2Z" fill="#e3935c"/>
<circle cx="123.8" cy="237.5" r="15" fill="#5ec98b"/><path d="M117.2 238L121.8 242.5L130.3 233" stroke="#fff" stroke-width="2.9" fill="none" stroke-linecap="round" stroke-linejoin="round"/>
<circle cx="759.5" cy="236.3" r="16" fill="#e8625f"/><path d="M754.3 231.1L764.7 241.5M764.7 231.1L754.3 241.5" stroke="#fff" stroke-width="3" fill="none" stroke-linecap="round"/>
<text class="t" transform="translate(174.6 245.8) scale(1 1.05)" font-size="22.8">Carrying semantic information</text>
<text class="t" transform="translate(811.3 215.5) scale(1 1.05)" font-size="22.8">No semantic content,</text>
<text class="t" transform="translate(811.3 242.5) scale(1 1.05)" font-size="22.8">only articulatory motion,</text>
<text class="t" transform="translate(811.3 269.5) scale(1 1.05)" font-size="22.8">indicates approximate speaking moments.</text>
<rect x="92.7" y="286.6" width="429.2" height="61.3" rx="10" ry="10" fill="#fff" stroke="#000" stroke-width="1.5"/>
<rect x="732" y="286.6" width="429.9" height="61.3" rx="10" ry="10" fill="#fff" stroke="#000" stroke-width="1.5"/>
<text class="s" transform="translate(215.1 326.6) scale(1 1.1)" font-size="26.2">Vibration-based</text>
<text class="s" transform="translate(834.4 326.6) scale(1 1.1)" font-size="26.3">Deformation-based</text>
<text class="s" transform="translate(154.4 390.7) scale(1 1.07)" font-size="30.2">Voice-related Vibration</text>
<text class="s" transform="translate(842.4 390.7) scale(1 1.07)" font-size="30.3">TMJ Movement</text>
<text class="s" x="607" y="332" font-size="32" textLength="44.5" lengthAdjust="spacingAndGlyphs" filter="url(#vsshadow)">VS.</text>
</svg></body></html>
